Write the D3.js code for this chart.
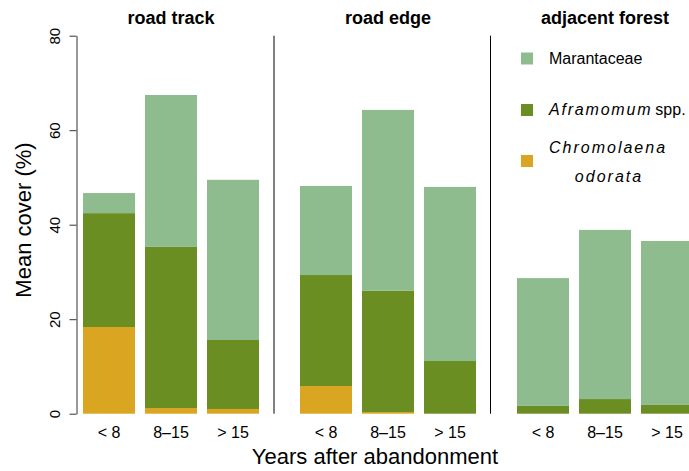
<!DOCTYPE html>
<html>
<head>
<meta charset="utf-8">
<script src="https://cdn.jsdelivr.net/npm/d3@7"></script>
<style>
  html, body { margin: 0; padding: 0; background: #fff; }
  svg { display: block; font-family: "Liberation Sans", Arial, Helvetica, sans-serif; }
</style>
</head>
<body>
<svg id="chart" width="689" height="471"></svg>
<script>
// ---- data ----
const groups = ["road track", "road edge", "adjacent forest"];
const ages = ["< 8", "8–15", "> 15"];
// values in order: road track (<8, 8–15, >15), road edge (...), adjacent forest (...)
const chromolaena = [18.35, 1.2, 1.0, 5.85, 0.35, 0, 0, 0, 0];
const aframomum   = [24.1, 34.1, 14.6, 23.5, 25.65, 11.15, 1.65, 3.1, 1.85];
const marantaceae = [4.25, 32.15, 33.9, 18.85, 38.3, 36.85, 27.05, 35.8, 34.7];
const yTicks = [0, 20, 40, 60, 80];
const seriesKeys = ["chromolaena", "aframomum", "marantaceae"];
const seriesColors = { chromolaena: "#DAA520", aframomum: "#6B8E23", marantaceae: "#8FBC8F" };

// ---- build table ----
const rows = [];
groups.forEach((g, gi) => ages.forEach((a, ai) => {
  const k = gi * 3 + ai;
  rows.push({ group: g, age: a, chromolaena: chromolaena[k], aframomum: aframomum[k], marantaceae: marantaceae[k] });
}));
const stacked = d3.stack().keys(seriesKeys)(rows);

const svg = d3.select("#chart");

// ---- scales ----
const xGroup = d3.scaleBand().domain(groups).range([83, 734]).paddingInner(0).paddingOuter(0);
const xAge = d3.scaleBand().domain(ages).range([0, 176]).paddingInner(10 / 62).paddingOuter(0);
const y = d3.scaleLinear().domain([0, 80]).range([413.7, 35.7]);

// ---- bars ----
svg.append("g").selectAll("g")
  .data(stacked)
  .join("g")
  .attr("fill", d => seriesColors[d.key])
  .selectAll("rect")
  .data(d => d)
  .join("rect")
  .attr("x", d => xGroup(d.data.group) + xAge(d.data.age))
  .attr("width", xAge.bandwidth())
  .attr("y", d => y(d[1]))
  .attr("height", d => y(d[0]) - y(d[1]));

// ---- separators ----
const seps = [groups[0], groups[1]];
svg.append("g").selectAll("line")
  .data(seps)
  .join("line")
  .attr("x1", (g, i) => i === 0 ? xGroup(g) + 191 : xGroup(g) + 190.5)
  .attr("x2", (g, i) => i === 0 ? xGroup(g) + 191 : xGroup(g) + 190.5)
  .attr("y1", y(80))
  .attr("y2", y(0))
  .attr("stroke", "#000")
  .attr("stroke-width", 1);

// ---- y axis ----
const yAxis = d3.axisLeft(y).tickValues(yTicks).tickSize(7).tickSizeOuter(0).tickFormat(d3.format("d"));
const gy = svg.append("g").attr("transform", "translate(76.5,0)").call(yAxis);
gy.select(".domain").attr("stroke", "#333");
gy.selectAll(".tick line").attr("stroke", "#333");
gy.selectAll(".tick text").remove();
gy.selectAll(".tick").append("text")
  .attr("transform", "translate(-16.5,0) rotate(-90)")
  .attr("text-anchor", "middle")
  .attr("fill", "#000")
  .attr("font-size", 15)
  .attr("x", 0).attr("y", 0)
  .text(d => d3.format("d")(d));

// ---- x tick labels ----
svg.append("g").selectAll("text")
  .data(rows)
  .join("text")
  .attr("x", d => xGroup(d.group) + xAge(d.age) + xAge.bandwidth() / 2)
  .attr("y", 438)
  .attr("text-anchor", "middle")
  .attr("font-size", 16)
  .attr("fill", "#000")
  .text(d => d.age);

// ---- panel titles ----
svg.append("g").selectAll("text")
  .data(groups)
  .join("text")
  .attr("x", g => xGroup(g) + 88)
  .attr("y", 24)
  .attr("text-anchor", "middle")
  .attr("font-size", 18)
  .attr("font-weight", "bold")
  .attr("fill", "#000")
  .text(g => g);

// ---- axis titles ----
svg.append("text")
  .attr("x", 375).attr("y", 464)
  .attr("text-anchor", "middle")
  .attr("font-size", 22)
  .attr("fill", "#000")
  .text("Years after abandonment");
svg.append("text")
  .attr("transform", "translate(31,220) rotate(-90)")
  .attr("text-anchor", "middle")
  .attr("font-size", 22)
  .attr("fill", "#000")
  .text("Mean cover (%)");

// ---- legend ----
const legend = svg.append("g");
const legendItems = [
  { key: "marantaceae", y: 52.5 },
  { key: "aframomum", y: 104 },
  { key: "chromolaena", y: 155 }
];
legend.selectAll("rect")
  .data(legendItems)
  .join("rect")
  .attr("x", 521).attr("y", d => d.y)
  .attr("width", 12).attr("height", 12)
  .attr("fill", d => seriesColors[d.key]);

legend.append("text")
  .attr("x", 549).attr("y", 64)
  .attr("font-size", 16).attr("fill", "#000")
  .text("Marantaceae");

const t2 = legend.append("text")
  .attr("x", 549).attr("y", 115)
  .attr("font-size", 16).attr("fill", "#000");
t2.append("tspan").attr("font-style", "italic").attr("letter-spacing", "1.8px").text("Aframomum");
t2.append("tspan").attr("dx", 3).text("spp.");

legend.append("text")
  .attr("x", 608).attr("y", 153)
  .attr("text-anchor", "middle")
  .attr("font-size", 16).attr("font-style", "italic").attr("letter-spacing", "2px")
  .attr("fill", "#000")
  .text("Chromolaena");
legend.append("text")
  .attr("x", 609).attr("y", 182)
  .attr("text-anchor", "middle")
  .attr("font-size", 16).attr("font-style", "italic").attr("letter-spacing", "2px")
  .attr("fill", "#000")
  .text("odorata");
</script>
</body>
</html>
